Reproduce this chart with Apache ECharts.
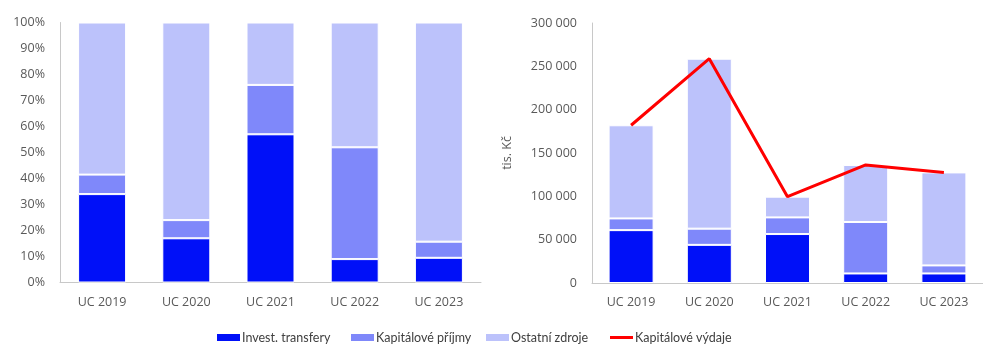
<!DOCTYPE html>
<html>
<head>
<meta charset="utf-8">
<script src="https://cdn.jsdelivr.net/npm/echarts@6/dist/echarts.min.js"></script>
<style>
  html, body { margin: 0; padding: 0; background: #fff; }
  #chart { width: 983px; height: 349px; }
</style>
</head>
<body>
<div id="chart"></div>
<script>
// Categories (final accounts by year)
const categories = ['UC 2019', 'UC 2020', 'UC 2021', 'UC 2022', 'UC 2023'];

// Left panel: share of financing sources (%)
const pctInvest = [34, 17, 57, 9, 9.5];
const pctKapPrijmy = [7.5, 7, 19, 43, 6.2];
const pctOstatni = [58.5, 76, 24, 48, 84.3];

// Right panel: financing sources in thousands CZK
const absInvest = [61000, 44000, 56500, 11000, 11000];
const absKapPrijmy = [13500, 18700, 19200, 59400, 9300];
const absOstatni = [107500, 196100, 23900, 65800, 107300];

// Capital expenditure (thousands CZK)
const kapVydaje = [182000, 258800, 99600, 136200, 127600];

// Tick values for the axes
const pctTicks = { min: 0, max: 100, interval: 10 };
const absTicks = { min: 0, max: 300000, interval: 50000 };

const names = ['Invest. transfery', 'Kapitálové příjmy', 'Ostatní zdroje', 'Kapitálové výdaje'];
const colors = ['#0010f8', '#7f88fa', '#bcc2fb', '#ff0000'];

const FONT = 'Open Sans';
const labelColor = '#595959';
const axisLineColor = '#c8c8c8';

function fmtThousands(v) {
  return String(v).replace(/\B(?=(\d{3})+(?!\d))/g, ' ');
}

function barSeries(name, data, xi, color, width) {
  return {
    name: name,
    type: 'bar',
    stack: 'src' + xi,
    xAxisIndex: xi,
    yAxisIndex: xi,
    barWidth: width,
    data: data,
    itemStyle: { color: color, borderColor: '#ffffff', borderWidth: 1 },
    emphasis: { disabled: true },
    animation: false
  };
}

const xAxisCommon = {
  type: 'category',
  data: categories,
  axisLine: { lineStyle: { color: axisLineColor, width: 1 } },
  axisTick: { show: false },
  axisLabel: { color: labelColor, fontFamily: FONT, fontSize: 12.5, margin: 13 }
};

const yAxisCommon = {
  type: 'value',
  splitLine: { show: false },
  axisLine: { show: true, lineStyle: { color: axisLineColor, width: 1 } },
  axisTick: { show: false },
  axisLabel: { color: labelColor, fontFamily: FONT, fontSize: 12.5, margin: 15 }
};

const legendPos = [217, 351, 486, 610];

const option = {
  backgroundColor: '#ffffff',
  animation: false,
  grid: [
    { left: 60, right: 502, top: 22.5, bottom: 66.5 },
    { left: 592, right: -7, top: 23, bottom: 66 }
  ],
  legend: names.map((n, i) => ({
    data: [{ name: n, icon: 'rect', itemStyle: { color: colors[i], borderWidth: 0 } }],
    left: legendPos[i],
    top: 331,
    itemWidth: 23,
    itemHeight: i === 3 ? 3 : 7,
    itemGap: 2,
    textStyle: { color: '#404040', fontFamily: 'Lato', fontSize: 12.5, padding: [0, 0, 0, -3] },
    selectedMode: false,
    padding: 0
  })),
  xAxis: [
    Object.assign({ gridIndex: 0 }, xAxisCommon),
    Object.assign({ gridIndex: 1 }, xAxisCommon)
  ],
  yAxis: [
    Object.assign({}, yAxisCommon, {
      gridIndex: 0,
      min: pctTicks.min, max: pctTicks.max, interval: pctTicks.interval,
      axisLabel: Object.assign({}, yAxisCommon.axisLabel, { formatter: '{value}%' })
    }),
    Object.assign({}, yAxisCommon, {
      gridIndex: 1,
      min: absTicks.min, max: absTicks.max, interval: absTicks.interval,
      name: 'tis. Kč',
      nameLocation: 'middle',
      nameGap: 78,
      nameRotate: 90,
      nameTextStyle: { color: labelColor, fontFamily: FONT, fontSize: 12.5 },
      axisLabel: Object.assign({}, yAxisCommon.axisLabel, { formatter: fmtThousands })
    })
  ],
  series: [
    barSeries(names[0], pctInvest, 0, colors[0], 48),
    barSeries(names[1], pctKapPrijmy, 0, colors[1], 48),
    barSeries(names[2], pctOstatni, 0, colors[2], 48),
    barSeries(names[0], absInvest, 1, colors[0], 45),
    barSeries(names[1], absKapPrijmy, 1, colors[1], 45),
    barSeries(names[2], absOstatni, 1, colors[2], 45),
    {
      name: names[3],
      type: 'line',
      xAxisIndex: 1,
      yAxisIndex: 1,
      data: kapVydaje,
      symbol: 'none',
      lineStyle: { color: colors[3], width: 3 },
      itemStyle: { color: colors[3] },
      emphasis: { disabled: true },
      animation: false
    }
  ]
};

const chart = echarts.init(document.getElementById('chart'), null, { renderer: 'canvas' });
chart.setOption(option);
</script>
</body>
</html>
